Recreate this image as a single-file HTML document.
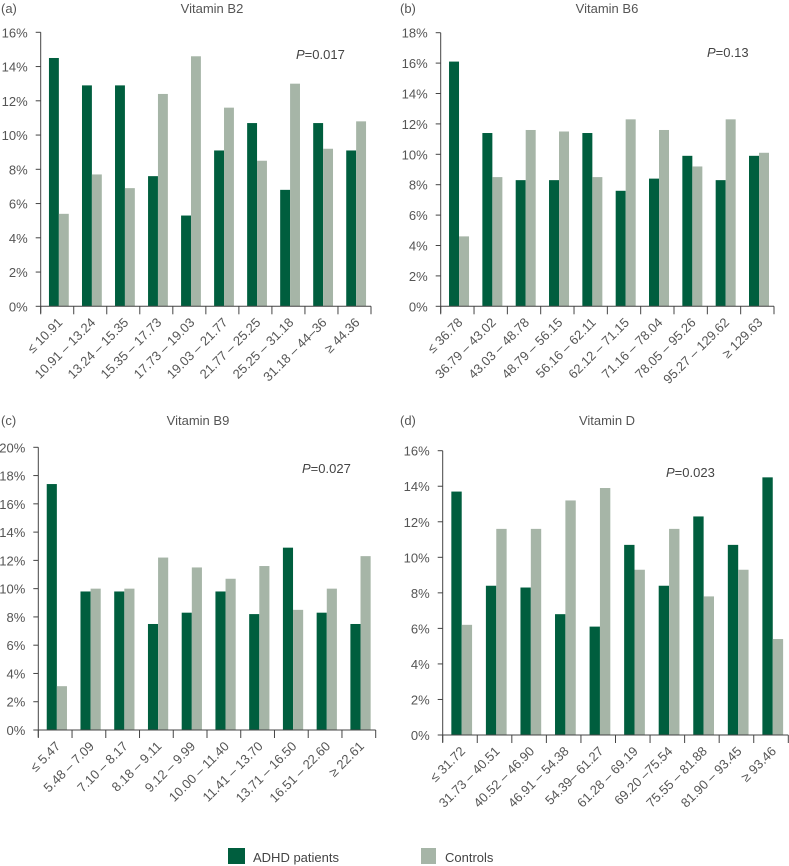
<!DOCTYPE html>
<html><head><meta charset="utf-8"><style>
html,body{margin:0;padding:0;background:#fff;}
svg{display:block;font-family:"Liberation Sans",sans-serif;}
</style></head><body>
<svg id="chart" width="789" height="866" viewBox="0 0 789 866"></svg>
<script>
const catsB2 = ["≤ 10.91","10.91 – 13.24","13.24 – 15.35","15.35 – 17.73","17.73 – 19.03","19.03 – 21.77","21.77 – 25.25","25.25 – 31.18","31.18 – 44–36","≥ 44.36"];
const adhdB2 = [14.5,12.9,12.9,7.6,5.3,9.1,10.7,6.8,10.7,9.1];
const ctrlB2 = [5.4,7.7,6.9,12.4,14.6,11.6,8.5,13.0,9.2,10.8];
const catsB6 = ["≤ 36.78","36.79 – 43.02","43.03 – 48.78","48.79 – 56.15","56.16 – 62.11","62.12 – 71.15","71.16 – 78.04","78.05 – 95.26","95.27 – 129.62","≥ 129.63"];
const adhdB6 = [16.1,11.4,8.3,8.3,11.4,7.6,8.4,9.9,8.3,9.9];
const ctrlB6 = [4.6,8.5,11.6,11.5,8.5,12.3,11.6,9.2,12.3,10.1];
const catsB9 = ["≤ 5.47","5.48 – 7.09","7.10 – 8.17","8.18 – 9.11","9.12 – 9.99","10.00 – 11.40","11.41 – 13.70","13.71 – 16.50","16.51 – 22.60","≥ 22.61"];
const adhdB9 = [17.4,9.8,9.8,7.5,8.3,9.8,8.2,12.9,8.3,7.5];
const ctrlB9 = [3.1,10.0,10.0,12.2,11.5,10.7,11.6,8.5,10.0,12.3];
const catsD = ["≤ 31.72","31.73 – 40.51","40.52 – 46.90","46.91 – 54.38","54.39– 61.27","61.28 – 69.19","69.20 –75.54","75.55 – 81.88","81.90 – 93.45","≥ 93.46"];
const adhdD = [13.7,8.4,8.3,6.8,6.1,10.7,8.4,12.3,10.7,14.5];
const ctrlD = [6.2,11.6,11.6,13.2,13.9,9.3,11.6,7.8,9.3,5.4];
const ticksB2 = [0,2,4,6,8,10,12,14,16];
const ticksB6 = [0,2,4,6,8,10,12,14,16,18];
const ticksB9 = [0,2,4,6,8,10,12,14,16,18,20];
const ticksD = [0,2,4,6,8,10,12,14,16];

const svg = document.getElementById('chart');
const NS = 'http://www.w3.org/2000/svg';
function mk(tag, attrs, parent){const e=document.createElementNS(NS,tag);for(const k in attrs)e.setAttribute(k,attrs[k]);(parent||svg).appendChild(e);return e;}

function panel(key, letter, title, cats, adhd, ctrl, ticks, geo){
  const g = mk('g',{});
  
  
  const maxV = ticks[ticks.length-1];
  const y = v => geo.y0 - (v/maxV)*(geo.y0-geo.yTop);
  const step = (geo.xR-geo.x0)/cats.length;
  const xc = i => geo.x0 + i*step;
  const lt = mk('text',{x:geo.lx,y:geo.ty,'font-size':13,fill:'#555'},g); lt.textContent='('+letter+')';
  
  
  const tt = mk('text',{x:geo.tcx,y:geo.ty,'font-size':13,fill:'#555','text-anchor':'middle'},g); tt.textContent=title;
  
  
  cats.forEach((c,i)=>{
    const bw = step*0.30;
    const bx = xc(i)+step*0.25;
    const r1 = mk('rect',{x:bx,y:y(adhd[i]),width:bw,height:geo.y0-y(adhd[i]),fill:'#005e3e'},g);
    
    
    const r2 = mk('rect',{x:bx+bw,y:y(ctrl[i]),width:bw,height:geo.y0-y(ctrl[i]),fill:'#a6b5a7'},g);
    
    
  });
  const ya = mk('line',{x1:geo.x0,y1:geo.yTop,x2:geo.x0,y2:geo.y0+7,stroke:'#444','stroke-width':1},g);
  
  
  const xa = mk('line',{x1:geo.x0,y1:geo.y0,x2:geo.xR,y2:geo.y0,stroke:'#444','stroke-width':1},g);
  
  
  ticks.forEach(t=>{
    mk('line',{x1:geo.x0-5,y1:y(t),x2:geo.x0,y2:y(t),stroke:'#444'},g);
    const tl = mk('text',{x:geo.x0-13,y:y(t)+5,'font-size':13,fill:'#555','text-anchor':'end'},g);
    tl.textContent=t+'%';
    
    
  });
  for(let i=0;i<=cats.length;i++) mk('line',{x1:xc(i),y1:geo.y0,x2:xc(i),y2:geo.y0+8,stroke:'#444'},g);
  cats.forEach((c,i)=>{
    const ax = xc(i)+step*0.5+6, ay = geo.y0+17;
    const tl = mk('text',{x:ax,y:ay,'font-size':13,fill:'#555','text-anchor':'end',transform:'rotate(-45 '+ax+' '+ay+')'},g);
    tl.textContent=c;
    
    
  });
  const p = mk('text',{x:geo.px,y:geo.py,'font-size':13,fill:'#444'},g);
  p.innerHTML='<tspan font-style="italic">P</tspan>='+geo.p;
  
  
}
panel('b2','a','Vitamin B2',catsB2,adhdB2,ctrlB2,ticksB2,{x0:40.7,xR:371,y0:306.3,yTop:32.3,lx:1,tcx:212,ty:13,px:296,py:59,p:'0.017'});
panel('b6','b','Vitamin B6',catsB6,adhdB6,ctrlB6,ticksB6,{x0:440.7,xR:774,y0:306.3,yTop:32.7,lx:400,tcx:607,ty:13,px:707,py:57,p:'0.13'});
panel('b9','c','Vitamin B9',catsB9,adhdB9,ctrlB9,ticksB9,{x0:38.3,xR:375.7,y0:730,yTop:447.3,lx:1,tcx:198,ty:425,px:302,py:473,p:'0.027'});
panel('d','d','Vitamin D',catsD,adhdD,ctrlD,ticksD,{x0:442.7,xR:788.3,y0:735,yTop:450.7,lx:400,tcx:607,ty:425,px:666,py:477,p:'0.023'});

const lg = mk('g',{});


const s1 = mk('rect',{x:228,y:848,width:17,height:16,fill:'#005e3e'},lg);


const t1 = mk('text',{x:253,y:862,'font-size':13,fill:'#444'},lg); t1.textContent='ADHD patients';


const s2 = mk('rect',{x:421,y:848,width:15,height:16,fill:'#a6b5a7'},lg);


const t2 = mk('text',{x:445,y:862,'font-size':13,fill:'#444'},lg); t2.textContent='Controls';


</script>
</body></html>
